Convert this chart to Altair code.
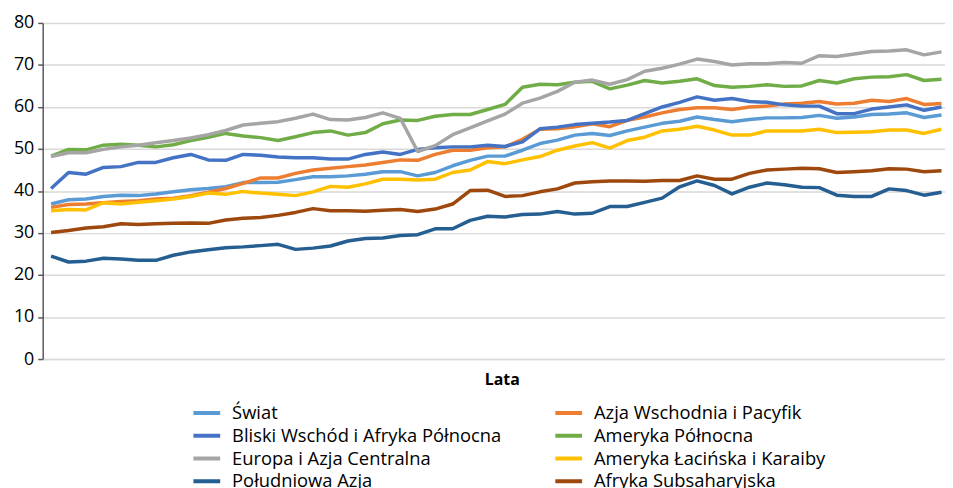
import altair as alt
import pandas as pd

series_names = [
    "Świat",
    "Azja Wschodnia i Pacyfik",
    "Bliski Wschód i Afryka Północna",
    "Ameryka Północna",
    "Europa i Azja Centralna",
    "Ameryka Łacińska i Karaiby",
    "Południowa Azja",
    "Afryka Subsaharyjska",
]
series_colors = ["#5B9BD5", "#ED7D31", "#4472C4", "#70AD47",
                 "#A5A5A5", "#FFC000", "#255E91", "#9E480E"]

swiat = [36.9, 37.9, 38.1, 38.7, 39.0, 38.9, 39.3, 39.8, 40.3, 40.6,
         41.0, 42.0, 42.0, 42.1, 42.7, 43.4, 43.4, 43.6, 44.0, 44.6,
         44.6, 43.6, 44.4, 46.0, 47.3, 48.3, 48.3, 49.7, 51.3, 52.1,
         53.3, 53.7, 53.2, 54.3, 55.2, 56.1, 56.6, 57.6, 57.0, 56.5,
         57.0, 57.4, 57.4, 57.5, 58.0, 57.3, 57.6, 58.2, 58.3, 58.6,
         57.5, 58.1]
azja_wsch = [36.1, 36.8, 36.9, 37.2, 37.5, 37.7, 38.1, 38.3, 38.9, 39.7,
             40.6, 41.8, 43.1, 43.1, 44.2, 45.0, 45.4, 45.8, 46.2, 46.8,
             47.4, 47.3, 48.7, 49.7, 49.7, 50.3, 50.5, 52.3, 54.7, 54.8,
             55.3, 56.0, 55.3, 56.8, 57.6, 58.6, 59.4, 59.8, 59.8, 59.4,
             60.0, 60.2, 60.7, 60.9, 61.3, 60.7, 60.9, 61.6, 61.3, 62.0,
             60.6, 60.8]
bliski = [40.6, 44.4, 44.0, 45.6, 45.8, 46.8, 46.8, 47.9, 48.7, 47.4,
          47.3, 48.7, 48.5, 48.1, 47.9, 47.9, 47.6, 47.6, 48.7, 49.3,
          48.7, 49.9, 50.3, 50.5, 50.5, 50.9, 50.6, 51.7, 54.8, 55.2,
          55.8, 56.1, 56.4, 56.8, 58.4, 60.0, 61.1, 62.4, 61.6, 62.0,
          61.3, 61.1, 60.5, 60.2, 60.2, 58.4, 58.4, 59.5, 60.0, 60.5,
          59.2, 60.0]
polnocna = [48.3, 49.9, 49.8, 50.9, 51.1, 50.9, 50.5, 51.0, 52.0, 52.8,
            53.7, 53.1, 52.7, 52.0, 52.9, 53.9, 54.3, 53.3, 53.9, 56.0,
            56.9, 56.8, 57.8, 58.2, 58.2, 59.4, 60.6, 64.7, 65.4, 65.3,
            65.9, 66.1, 64.3, 65.2, 66.3, 65.7, 66.1, 66.7, 65.1, 64.7,
            64.9, 65.3, 64.9, 65.0, 66.3, 65.7, 66.7, 67.1, 67.2, 67.7,
            66.3, 66.6]
europa = [48.2, 49.1, 49.1, 49.9, 50.5, 50.9, 51.5, 52.0, 52.6, 53.4,
          54.4, 55.7, 56.1, 56.5, 57.3, 58.3, 57.0, 56.9, 57.5, 58.6,
          57.3, 49.4, 50.8, 53.4, 55.0, 56.7, 58.3, 60.9, 62.1, 63.7,
          65.9, 66.4, 65.4, 66.5, 68.5, 69.2, 70.2, 71.4, 70.8, 70.0,
          70.3, 70.3, 70.6, 70.4, 72.2, 72.0, 72.6, 73.2, 73.3, 73.6,
          72.4, 73.1]
lacinska = [35.3, 35.6, 35.5, 37.2, 36.9, 37.3, 37.7, 38.1, 38.7, 39.5,
            39.2, 39.9, 39.5, 39.2, 38.9, 39.8, 41.1, 40.9, 41.7, 42.8,
            42.8, 42.6, 42.8, 44.4, 45.0, 47.0, 46.5, 47.4, 48.2, 49.7,
            50.7, 51.5, 50.2, 52.0, 52.8, 54.3, 54.7, 55.4, 54.5, 53.3,
            53.3, 54.3, 54.3, 54.3, 54.7, 53.9, 54.0, 54.1, 54.5, 54.5,
            53.7, 54.7]
pld_azja = [24.5, 23.1, 23.3, 24.0, 23.8, 23.5, 23.5, 24.7, 25.5, 26.0,
            26.5, 26.7, 27.0, 27.3, 26.1, 26.4, 26.9, 28.1, 28.7, 28.8,
            29.4, 29.6, 31.0, 31.0, 33.0, 34.0, 33.8, 34.4, 34.5, 35.1,
            34.5, 34.7, 36.3, 36.3, 37.3, 38.3, 41.0, 42.4, 41.3, 39.3,
            40.9, 41.9, 41.5, 40.9, 40.8, 39.0, 38.7, 38.7, 40.5, 40.1,
            39.0, 39.7]
subsah = [30.1, 30.6, 31.2, 31.5, 32.2, 32.0, 32.2, 32.3, 32.4, 32.3,
          33.1, 33.5, 33.7, 34.2, 34.9, 35.8, 35.3, 35.3, 35.2, 35.4,
          35.6, 35.1, 35.7, 36.9, 40.1, 40.2, 38.7, 38.9, 39.8, 40.5,
          41.9, 42.2, 42.4, 42.4, 42.3, 42.5, 42.5, 43.6, 42.8, 42.8,
          44.2, 45.0, 45.2, 45.4, 45.3, 44.4, 44.6, 44.8, 45.3, 45.2,
          44.6, 44.8]

all_series = [swiat, azja_wsch, bliski, polnocna, europa, lacinska, pld_azja, subsah]

rows = []
for order, (name, vals) in enumerate(zip(series_names, all_series)):
    for i, v in enumerate(vals):
        rows.append({"idx": i, "value": v, "series": name, "ord": order})
df = pd.DataFrame(rows)

# legend fills column by column: left column first, then right column
legend_order = [0, 2, 4, 6, 1, 3, 5, 7]
legend_domain = [series_names[k] for k in legend_order]
legend_range = [series_colors[k] for k in legend_order]

FONT = "Open Sans"

chart = alt.Chart(df).mark_line(strokeWidth=3.5, strokeJoin="round").encode(
    x=alt.X("idx:Q",
            scale=alt.Scale(domain=[-0.48, 51.2], nice=False, zero=False),
            axis=alt.Axis(title="Lata", labels=False, ticks=False, grid=False,
                          domainColor="#D9D9D9", domainWidth=1.5,
                          titleFont=FONT, titleFontSize=16, titleFontWeight="bold",
                          titleColor="#000000", titlePadding=13, titleX=463)),
    y=alt.Y("value:Q",
            scale=alt.Scale(domain=[0, 80], nice=False),
            axis=alt.Axis(title=None, values=list(range(0, 81, 10)),
                          labelFont=FONT, labelFontSize=18, labelColor="#000000",
                          labelPadding=4,
                          domainColor="#595959", domainWidth=1.5,
                          tickColor="#595959", tickSize=5, tickWidth=1.5,
                          gridColor="#D9D9D9", gridWidth=1.5)),
    color=alt.Color("series:N",
                    scale=alt.Scale(domain=legend_domain, range=legend_range),
                    legend=alt.Legend(title=None, orient="none", legendX=150, legendY=382,
                                      columns=2, columnPadding=52, rowPadding=0,
                                      clipHeight=22.7,
                                      symbolType="stroke", symbolSize=729,
                                      symbolStrokeWidth=4, labelFont=FONT,
                                      labelFontSize=18.5, labelColor="#000000",
                                      labelOffset=10, labelLimit=400)),
    order=alt.Order("ord:Q"),
    detail="series:N",
).properties(
    width=910,
    height=339,
    padding={"left": 35, "top": 13, "right": 0, "bottom": 128},
    autosize="none",
).configure_view(stroke=None)

chart.save("out.html", embed_options={"renderer": "svg", "actions": False})
